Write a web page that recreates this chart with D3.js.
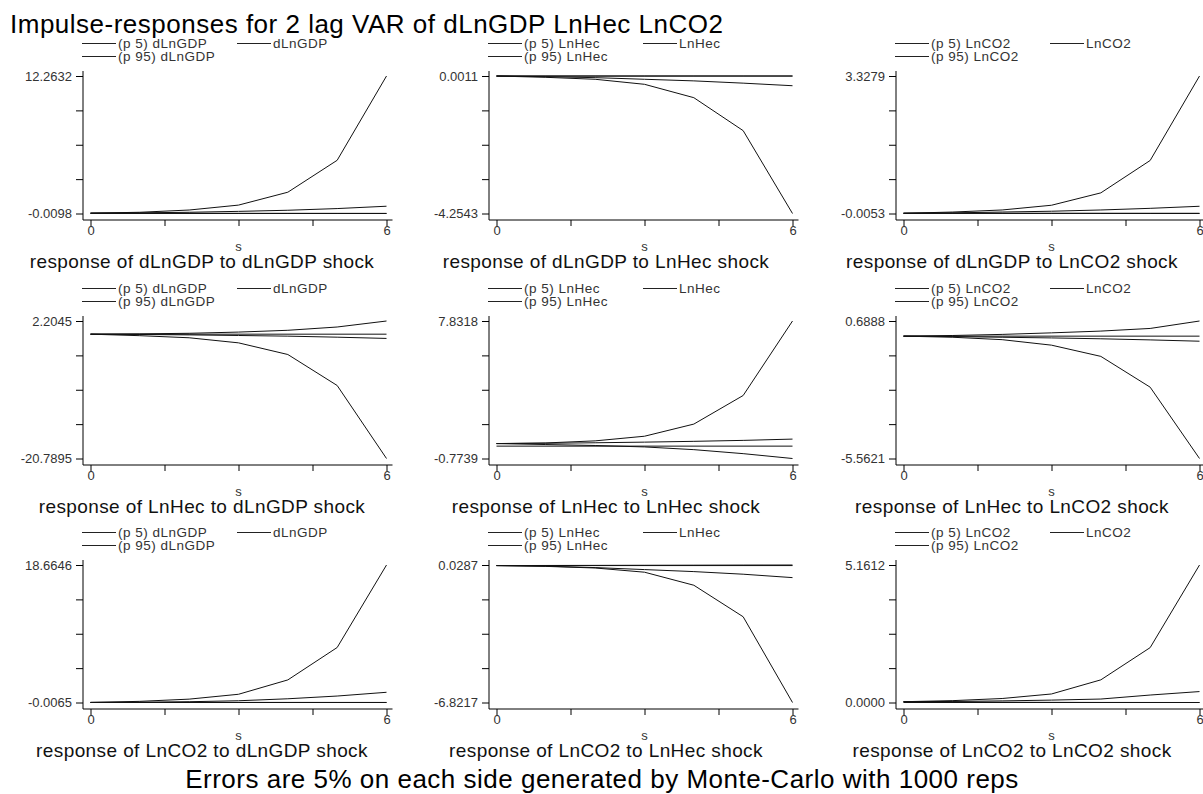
<!DOCTYPE html>
<html>
<head>
<meta charset="utf-8">
<script src="https://cdn.jsdelivr.net/npm/d3@7"></script>
<style>
    body { margin: 0; background: #fff; }
    text { font-family: "Liberation Sans", Arial, sans-serif; }
</style>
</head>
<body>
<svg id="chart" width="1203" height="794"></svg>
<script>
// variables of the VAR, response = row, impulse = column
var variables = ["dLnGDP", "LnHec", "LnCO2"];
var steps = [0, 1, 2, 3, 4, 5, 6];
var xTicks = [0, 1.5, 3, 4.5, 6];
var xTickLabels = [0, 6];

// one row per panel, read row by row (response r, impulse c)
var p5Values = [
    [0.02, 0.01, 0.004, -0.002, -0.005, -0.008, -0.0098],
    [0, -0.04, -0.10, -0.256, -0.67, -1.69, -4.2543],
    [0, -0.001, -0.002, -0.003, -0.004, -0.005, -0.0053],
    [0, -0.25, -0.6, -1.45, -3.4, -8.58, -20.7895],
    [0.16, 0.1, 0.04, -0.05, -0.22, -0.47, -0.7739],
    [0, -0.05, -0.16, -0.41, -0.92, -2.32, -5.5621],
    [0, -0.001, -0.002, -0.003, -0.004, -0.005, -0.0065],
    [0, -0.04, -0.12, -0.33, -0.98, -2.55, -6.8217],
    [0.03, 0.02, 0.01, 0.005, 0.002, 0.001, 0.0000]
];
var irfValues = [
    [0.02, 0.05, 0.1, 0.18, 0.28, 0.43, 0.64],
    [0, -0.02, -0.05, -0.1, -0.15, -0.22, -0.30],
    [0, 0.01, 0.03, 0.05, 0.08, 0.12, 0.17],
    [0, -0.05, -0.12, -0.22, -0.33, -0.5, -0.71],
    [0.16, 0.18, 0.21, 0.25, 0.3, 0.36, 0.44],
    [0, -0.02, -0.05, -0.08, -0.12, -0.17, -0.23],
    [0, 0.03, 0.1, 0.23, 0.5, 0.87, 1.38],
    [0, -0.03, -0.1, -0.2, -0.3, -0.43, -0.6],
    [0.03, 0.04, 0.06, 0.09, 0.13, 0.28, 0.41]
];
var p95Values = [
    [0.02, 0.1, 0.3, 0.74, 1.89, 4.74, 12.2632],
    [0, 0.0002, 0.0004, 0.0006, 0.0008, 0.001, 0.0011],
    [0, 0.03, 0.08, 0.195, 0.495, 1.28, 3.3279],
    [0, 0.05, 0.15, 0.35, 0.65, 1.2, 2.2045],
    [0.16, 0.2, 0.33, 0.62, 1.38, 3.17, 7.8318],
    [0, 0.03, 0.08, 0.15, 0.23, 0.35, 0.6888],
    [0, 0.15, 0.45, 1.11, 3.06, 7.46, 18.6646],
    [0, 0.005, 0.01, 0.015, 0.02, 0.025, 0.0287],
    [0.03, 0.07, 0.15, 0.32, 0.85, 2.06, 5.1612]
];

var titleText = "Impulse-responses for 2 lag VAR of dLnGDP LnHec LnCO2";
var noteText = "Errors are 5% on each side generated by Monte-Carlo with 1000 reps";

// layout
var axisX = [83, 489, 896],
    subtitleX = [202, 606, 1012],
    rowTop = [76, 321, 565],
    plotW = 296,
    plotH = 137.5;

var fmt = d3.formatLocale({decimal: ".", thousands: ",", grouping: [3], currency: ["", ""], minus: "-"}).format(".4f");

var svg = d3.select("#chart");

svg.append("text")
    .attr("x", 10)
    .attr("y", 33)
    .style("font-size", "26px")
    .style("letter-spacing", "0.5px")
    .attr("fill", "#000")
    .text(titleText);

svg.append("text")
    .attr("x", 602)
    .attr("y", 788)
    .attr("text-anchor", "middle")
    .style("font-size", "26px")
    .style("letter-spacing", "0.5px")
    .attr("fill", "#000")
    .text(noteText);

for (var r = 0; r < 3; r++) {
    for (var c = 0; c < 3; c++) {
        drawPanel(r, c);
    }
}

function drawPanel(r, c) {
    var k = r * 3 + c,
        imp = variables[c],
        x0 = axisX[c] + 7.5,
        top = rowTop[r],
        bottom = top + plotH,
        axisY = bottom + 6.5;

    var all = p5Values[k].concat(irfValues[k], p95Values[k]);
    var yMin = d3.min(all), yMax = d3.max(all);

    var x = d3.scaleLinear().domain([0, 6]).range([x0, x0 + plotW]);
    var y = d3.scaleLinear().domain([yMin, yMax]).range([bottom, top]);

    var yTicks = d3.range(5).map(function (i) { return yMin + i * (yMax - yMin) / 4; });

    var g = svg.append("g");

    // y axis
    var yAxis = d3.axisLeft(y)
        .tickValues(yTicks)
        .tickSize(7)
        .tickSizeOuter(0)
        .tickPadding(4)
        .tickFormat(function (d, i) { return (i == 0 || i == 4) ? fmt(d) : ""; });
    var ya = g.append("g")
        .attr("transform", "translate(" + axisX[c] + ",0)")
        .call(yAxis);
    ya.select(".domain").remove();
    ya.selectAll("text").style("font-size", "13px").style("font-family", null).attr("fill", "#333");

    g.append("line")
        .attr("x1", axisX[c]).attr("x2", axisX[c])
        .attr("y1", top - 5).attr("y2", axisY)
        .attr("stroke", "#000");

    // x axis
    var xAxis = d3.axisBottom(x)
        .tickValues(xTicks)
        .tickSize(6)
        .tickSizeOuter(0)
        .tickPadding(0)
        .tickFormat(function (d) { return xTickLabels.indexOf(d) >= 0 ? d : ""; });
    var xa = g.append("g")
        .attr("transform", "translate(0," + axisY + ")")
        .call(xAxis);
    xa.select(".domain").remove();
    xa.selectAll("text").style("font-size", "13px").style("font-family", null).attr("fill", "#333");

    g.append("line")
        .attr("x1", axisX[c]).attr("x2", x0 + plotW + 6)
        .attr("y1", axisY).attr("y2", axisY)
        .attr("stroke", "#000");

    g.append("text")
        .attr("x", x0 + plotW / 2)
        .attr("y", axisY + 30.5)
        .attr("text-anchor", "middle")
        .style("font-size", "13px")
        .attr("fill", "#333")
        .text("s");

    // zero line
    g.append("line")
        .attr("x1", x(steps[0])).attr("x2", x(steps[steps.length - 1]))
        .attr("y1", y(0)).attr("y2", y(0))
        .attr("stroke", "#111")
        .attr("stroke-width", 1);

    var line = d3.line()
        .x(function (d, i) { return x(steps[i]); })
        .y(function (d) { return y(d); });

    [p5Values[k], irfValues[k], p95Values[k]].forEach(function (vals) {
        g.append("path")
            .datum(vals)
            .attr("d", line)
            .attr("fill", "none")
            .attr("stroke", "#111")
            .attr("stroke-width", 1);
    });

    // legend
    var legend = [
        {label: "(p 5) " + imp, dx: 0, dy: -33},
        {label: imp, dx: 155, dy: -33},
        {label: "(p 95) " + imp, dx: 0, dy: -20}
    ];
    legend.forEach(function (e) {
        var lx = axisX[c] - 1 + e.dx, ly = Math.round(top + e.dy) + 0.5;
        g.append("line")
            .attr("x1", lx).attr("x2", lx + 34)
            .attr("y1", ly).attr("y2", ly)
            .attr("stroke", "#222");
        g.append("text")
            .attr("x", lx + 36)
            .attr("y", ly)
            .attr("dy", "0.35em")
            .style("font-size", "13.5px")
            .style("letter-spacing", "0.5px")
            .attr("fill", "#333")
            .text(e.label);
    });

    g.append("text")
        .attr("x", subtitleX[c])
        .attr("y", axisY + 48)
        .attr("text-anchor", "middle")
        .style("font-size", "19px")
        .style("letter-spacing", "0.4px")
        .attr("fill", "#111")
        .text("response of " + variables[r] + " to " + imp + " shock");
}
</script>
</body>
</html>
